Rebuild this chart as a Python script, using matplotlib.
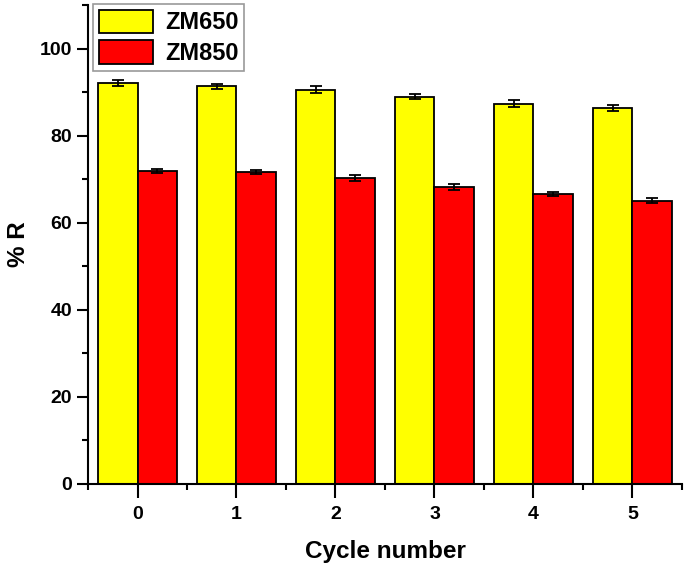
import numpy as np
import matplotlib
matplotlib.use("Agg")
import matplotlib.pyplot as plt
from matplotlib.ticker import MultipleLocator

plt.rcParams['font.family'] = ['Liberation Sans', 'DejaVu Sans']
plt.rcParams['font.weight'] = 'bold'

cycles = [0, 1, 2, 3, 4, 5]
zm650 = [92.2, 91.3, 90.5, 89.0, 87.3, 86.4]
zm650_err = [0.7, 0.6, 0.8, 0.6, 0.8, 0.7]
zm850 = [71.9, 71.7, 70.2, 68.2, 66.6, 65.1]
zm850_err = [0.5, 0.5, 0.7, 0.6, 0.5, 0.5]

fig = plt.figure(figsize=(6.85, 5.66), dpi=100)
ax = fig.add_axes([0.1285, 0.145, 0.867, 0.846])

x = np.array(cycles)
w = 0.4
ekw = dict(elinewidth=1.3, capthick=1.3, ecolor='black')
ax.bar(x - w/2, zm650, w, yerr=zm650_err, capsize=4.5, color='#ffff00',
       edgecolor='black', linewidth=1.3, label='ZM650', error_kw=ekw)
ax.bar(x + w/2, zm850, w, yerr=zm850_err, capsize=4.5, color='#ff0000',
       edgecolor='black', linewidth=1.3, label='ZM850', error_kw=ekw)

ax.set_xlim(-0.5, 5.5)
ax.set_ylim(0, 110)
ax.set_xticks(cycles)
ax.xaxis.set_minor_locator(MultipleLocator(0.5))
ax.yaxis.set_major_locator(MultipleLocator(20))
ax.yaxis.set_minor_locator(MultipleLocator(10))
ax.tick_params(which='major', length=8, width=1.5, labelsize=14)
ax.tick_params(which='minor', length=4, width=1.5)
ax.tick_params(axis='x', which='major', length=10, pad=6)

for s in ['top', 'right']:
    ax.spines[s].set_visible(False)
for s in ['left', 'bottom']:
    ax.spines[s].set_linewidth(1.5)

ax.set_xlabel('Cycle number', fontsize=17.5, fontweight='bold', labelpad=12)
ax.set_ylabel('% R', fontsize=17.5, fontweight='bold', labelpad=7)

leg = ax.legend(loc='upper left', bbox_to_anchor=(0.008, 1.003),
                fontsize=17, handlelength=2.3, handleheight=1.15,
                fancybox=False, edgecolor='gray', borderpad=0.25,
                labelspacing=0.25, handletextpad=0.5, borderaxespad=0)
leg.get_frame().set_linewidth(1.2)
for p in leg.get_patches():
    p.set_linewidth(1.3)

fig.savefig('out.png', dpi=100)
